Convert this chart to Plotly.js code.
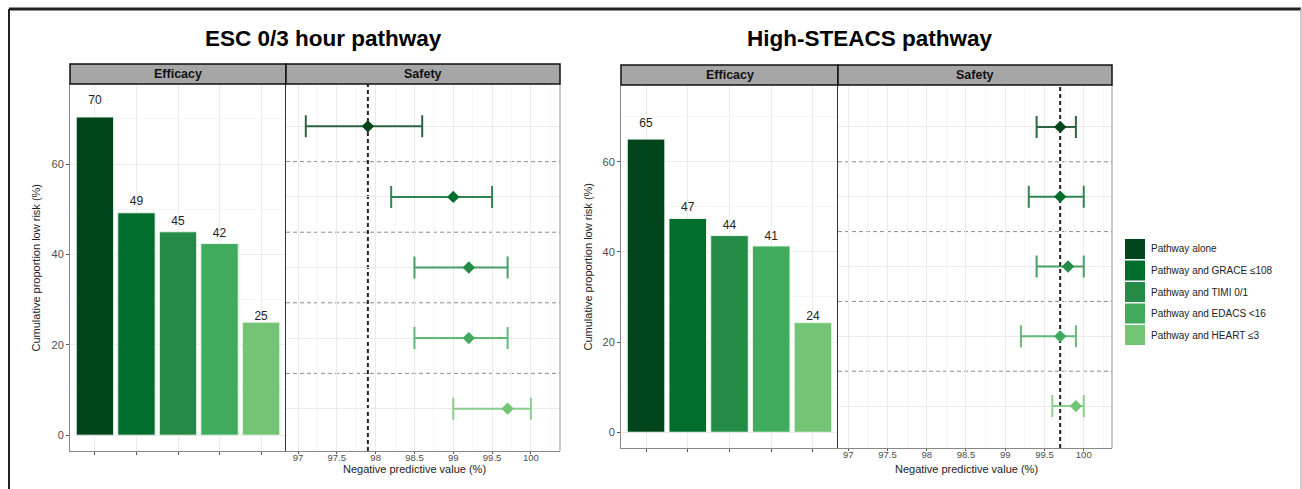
<!DOCTYPE html>
<html><head><meta charset="utf-8">
<script src="https://cdn.plot.ly/plotly-3.0.1.min.js"></script>
<style>body{margin:0;background:#fff}#chart{width:1302px;height:489px}</style>
</head><body><div id="chart"></div>
<script>
// ---- data ----
const categories = ["Pathway alone", "Pathway and GRACE ≤108", "Pathway and TIMI 0/1", "Pathway and EDACS <16", "Pathway and HEART ≤3"];
const colors = ["#00441b", "#006d2c", "#238b45", "#41ab5d", "#74c476"];
const chartTitles = ["ESC 0/3 hour pathway", "High-STEACS pathway"];
const stripLabels = ["Efficacy", "Safety"];

const escEfficacy = [70.4, 49.2, 45.0, 42.4, 25.0];
const escEfficacyLabels = ["70", "49", "45", "42", "25"];
const escNpv = [97.9, 99.0, 99.2, 99.2, 99.7];
const escNpvLow = [97.1, 98.2, 98.5, 98.5, 99.0];
const escNpvHigh = [98.6, 99.5, 99.7, 99.7, 100.0];

const hsEfficacy = [65.0, 47.4, 43.6, 41.3, 24.3];
const hsEfficacyLabels = ["65", "47", "44", "41", "24"];
const hsNpv = [99.7, 99.7, 99.8, 99.7, 99.9];
const hsNpvLow = [99.4, 99.3, 99.4, 99.2, 99.6];
const hsNpvHigh = [99.9, 100.0, 100.0, 99.9, 100.0];

const npvTicks = [97, 97.5, 98, 98.5, 99, 99.5, 100];
const npvTickLabels = ["97", "97.5", "98", "98.5", "99", "99.5", "100"];
const efficacyTicks = [0, 20, 40, 60];
const yTitle = "Cumulative proportion low risk (%)";
const xTitle = "Negative predictive value (%)";

// ---- layout helpers ----
const W = 1302, H = 489;
const px = x => x / W, py = y => 1 - y / H;
const FONT = "Liberation Sans, Arial, sans-serif";
const rgba = (hex, a) => {
  const n = parseInt(hex.slice(1), 16);
  return "rgba(" + (n >> 16) + "," + ((n >> 8) & 255) + "," + (n & 255) + "," + a + ")";
};

const panels = [
  {eff: escEfficacy, effLab: escEfficacyLabels, npv: escNpv, lo: escNpvLow, hi: escNpvHigh,
   l: 70, m: 286, r: 560, t: 84, b: 451, stripTop: 64, effRange: [-3.5, 77.7], npvRange: [96.845, 100.375],
   titleX: 323, yTitleX: 35, xTitleX: 414},
  {eff: hsEfficacy, effLab: hsEfficacyLabels, npv: hsNpv, lo: hsNpvLow, hi: hsNpvHigh,
   l: 621, m: 838, r: 1112, t: 85, b: 448, stripTop: 65, effRange: [-3.5, 77.0], npvRange: [96.87, 100.36],
   titleX: 870, yTitleX: 587, xTitleX: 966}
];

const traces = [];
const layout = {
  width: W, height: H, margin: {l: 0, r: 0, t: 0, b: 0},
  paper_bgcolor: "#ffffff", plot_bgcolor: "#ffffff",
  font: {family: FONT, color: "#222"},
  showlegend: false,
  shapes: [], annotations: []
};

const axisCommon = {zeroline: false, fixedrange: true};

panels.forEach((p, i) => {
  const xe = i === 0 ? "x" : "x3", ye = i === 0 ? "y" : "y3";
  const xs = i === 0 ? "x2" : "x4", ys = i === 0 ? "y2" : "y4";
  const xeK = i === 0 ? "xaxis" : "xaxis3", yeK = i === 0 ? "yaxis" : "yaxis3";
  const xsK = i === 0 ? "xaxis2" : "xaxis4", ysK = i === 0 ? "yaxis2" : "yaxis4";
  const yDom = [py(p.b), py(p.t)];

  layout[xeK] = Object.assign({}, axisCommon, {
    domain: [px(p.l), px(p.m)], anchor: ye, type: "category", categoryorder: "array", categoryarray: categories,
    range: [-0.6, 4.6], showticklabels: false, ticks: "outside", ticklen: 3, tickcolor: "#555",
    showgrid: true, gridcolor: "#ebebeb", gridwidth: 1, showline: true, linecolor: "#888", linewidth: 1
  });
  layout[yeK] = Object.assign({}, axisCommon, {
    domain: yDom, anchor: xe, range: p.effRange, tickvals: efficacyTicks, ticks: "outside", ticklen: 3,
    tickcolor: "#555", tickfont: {family: FONT, size: 11, color: "#4d4d4d"},
    showgrid: true, gridcolor: "#ebebeb", showline: true, linecolor: "#888", linewidth: 1,
    minor: {dtick: 10, tick0: 0, showgrid: true, gridcolor: "#f5f5f5", ticks: ""}
  });
  layout[xsK] = Object.assign({}, axisCommon, {
    domain: [px(p.m), px(p.r)], anchor: ys, range: p.npvRange, tickvals: npvTicks, ticktext: npvTickLabels,
    ticks: "outside", ticklen: 2, tickcolor: "#555", tickfont: {family: FONT, size: 9.5, color: "#4d4d4d"},
    ticklabelstandoff: -4,
    showgrid: true, gridcolor: "#ebebeb", showline: true, linecolor: "#888", linewidth: 1,
    minor: {dtick: 0.25, tick0: 97, showgrid: true, gridcolor: "#f5f5f5", ticks: ""}
  });
  layout[ysK] = Object.assign({}, axisCommon, {
    domain: yDom, anchor: xs, type: "category", categoryorder: "array", categoryarray: categories,
    range: [4.6, -0.6], showticklabels: false, ticks: "", showgrid: true, gridcolor: "#ebebeb",
    showline: true, linecolor: "#333", linewidth: 1.2
  });

  // efficacy bars
  traces.push({
    type: "bar", x: categories, y: p.eff, xaxis: xe, yaxis: ye, width: 0.9,
    marker: {color: colors, line: {color: "#eaf5ea", width: 1}}, hoverinfo: "skip"
  });
  // efficacy labels
  traces.push({
    type: "scatter", mode: "text", x: categories, y: p.eff.map(v => v * 1.05), text: p.effLab,
    textposition: "middle center", textfont: {family: FONT, size: 12, color: "#222"},
    xaxis: xe, yaxis: ye, cliponaxis: false, hoverinfo: "skip"
  });
  // safety points with CI
  categories.forEach((c, k) => {
    traces.push({
      type: "scatter", mode: "markers", x: [p.npv[k]], y: [c], xaxis: xs, yaxis: ys,
      marker: {symbol: "diamond", size: 9.5, color: colors[k]},
      error_x: {type: "data", symmetric: false, array: [p.hi[k] - p.npv[k]], arrayminus: [p.npv[k] - p.lo[k]],
                color: rgba(colors[k], 0.82), thickness: 2, width: 11},
      hoverinfo: "skip"
    });
  });

  // separators between rows
  for (let k = 0; k < categories.length - 1; k++) {
    layout.shapes.push({type: "line", xref: xs + " domain", x0: 0, x1: 1, yref: ys, y0: k + 0.5, y1: k + 0.5,
      line: {color: "#8c8c8c", width: 1, dash: "4px,3px"}, layer: "below"});
  }
  // reference line at the pathway-alone NPV
  layout.shapes.push({type: "line", xref: xs, x0: p.npv[0], x1: p.npv[0], yref: ys + " domain", y0: 0, y1: 1,
    line: {color: "#222", width: 2, dash: "4px,3px"}, layer: "below"});
  // right border of safety panel
  layout.shapes.push({type: "line", xref: "paper", yref: "paper", x0: px(p.r), x1: px(p.r), y0: py(p.b), y1: py(p.t),
    line: {color: "#999", width: 1}});
  // strips
  [[p.l, p.m], [p.m, p.r]].forEach((s, j) => {
    layout.shapes.push({type: "rect", xref: "paper", yref: "paper", x0: px(s[0]), x1: px(s[1]),
      y0: py(p.t), y1: py(p.stripTop), fillcolor: "#a6a6a6", line: {color: "#111", width: 1.5}});
    layout.annotations.push({xref: "paper", yref: "paper", x: px((s[0] + s[1]) / 2), y: py((p.t + p.stripTop) / 2),
      text: "<b>" + stripLabels[j] + "</b>", showarrow: false, xanchor: "center", yanchor: "middle",
      font: {family: FONT, size: 12.5, color: "#111"}});
  });
  // titles
  layout.annotations.push({xref: "paper", yref: "paper", x: px(p.titleX), y: py(39), text: "<b>" + chartTitles[i] + "</b>",
    showarrow: false, xanchor: "center", yanchor: "middle", font: {family: FONT, size: 22.5, color: "#000"}});
  layout.annotations.push({xref: "paper", yref: "paper", x: px(p.yTitleX), y: py((p.t + p.b) / 2), text: yTitle,
    textangle: -90, showarrow: false, xanchor: "center", yanchor: "middle", font: {family: FONT, size: 11, color: "#222"}});
  layout.annotations.push({xref: "paper", yref: "paper", x: px(p.xTitleX), y: py(469), text: xTitle,
    showarrow: false, xanchor: "center", yanchor: "middle", font: {family: FONT, size: 11, color: "#222"}});
});

// legend (drawn manually to match the large swatches)
categories.forEach((c, k) => {
  const top = 239 + k * 21.5;
  layout.shapes.push({type: "rect", xref: "paper", yref: "paper", x0: px(1125), x1: px(1145),
    y0: py(top + 20), y1: py(top), fillcolor: colors[k], line: {width: 0}});
  layout.annotations.push({xref: "paper", yref: "paper", x: px(1149), y: py(top + 10), text: c, showarrow: false,
    xanchor: "left", yanchor: "middle", font: {family: FONT, size: 10, color: "#222"}});
});

// outer frame
layout.shapes.push({type: "line", xref: "paper", yref: "paper", x0: px(9), x1: px(1301), y0: py(9), y1: py(9), line: {color: "#222", width: 3}});
layout.shapes.push({type: "line", xref: "paper", yref: "paper", x0: px(9), x1: px(9), y0: py(9), y1: 0, line: {color: "#222", width: 2}});
layout.shapes.push({type: "line", xref: "paper", yref: "paper", x0: px(1301), x1: px(1301), y0: py(9), y1: 0, line: {color: "#bbb", width: 1.5}});

Plotly.newPlot("chart", traces, layout, {staticPlot: true, displayModeBar: false});
</script></body></html>
